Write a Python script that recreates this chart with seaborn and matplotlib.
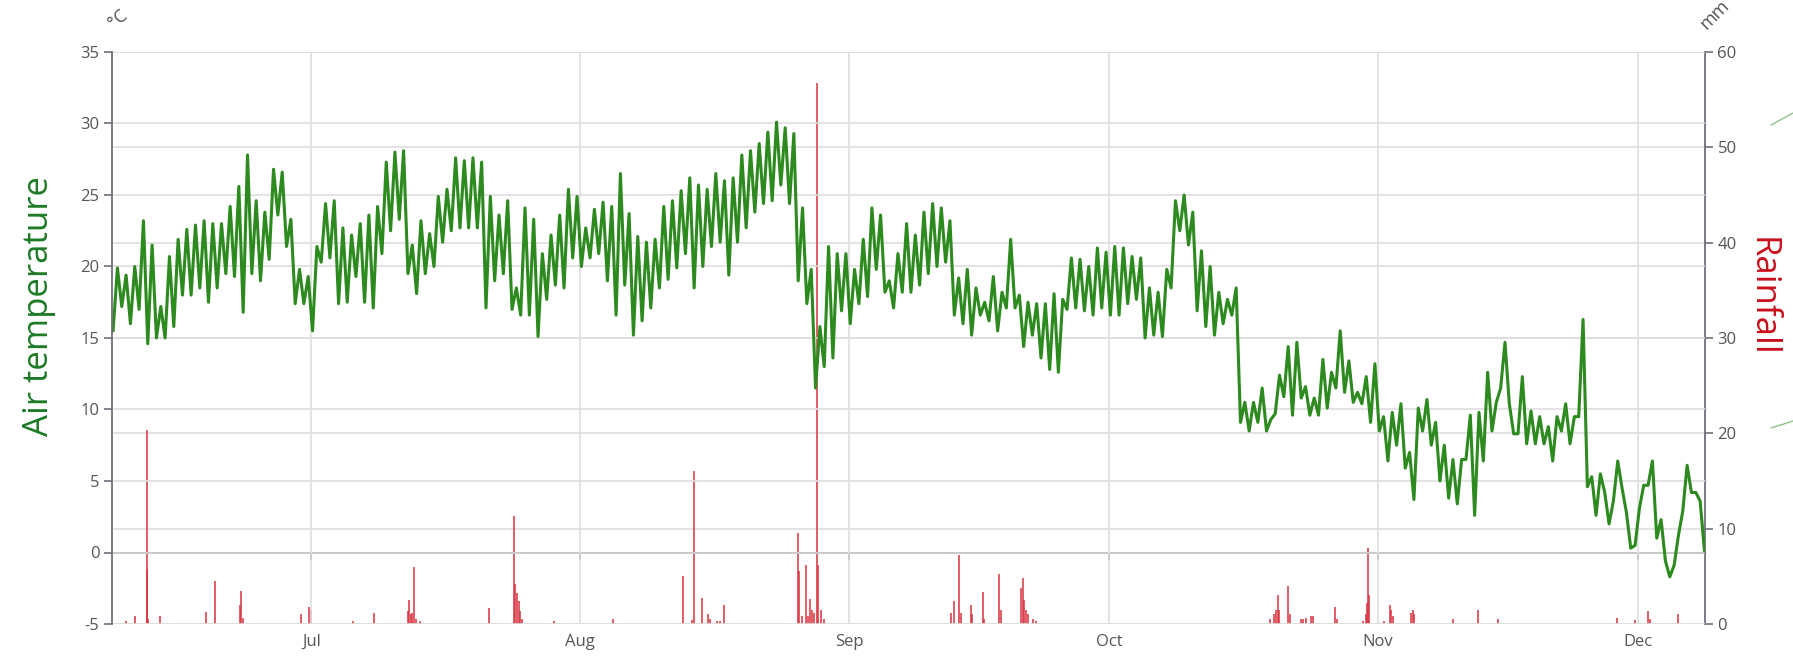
import matplotlib
matplotlib.use("Agg")
import numpy as np
import pandas as pd
import matplotlib.pyplot as plt
import matplotlib.dates as mdates
from matplotlib.lines import Line2D
import seaborn as sns

# ---------------- data ----------------
# Air temperature (°C), two readings per day (03:00, 15:00), starting 8 June
temp_jun = [15.5, 19.9, 17.2, 19.4, 16.0, 20.0, 17.0, 23.2, 14.6, 21.5, 15.0, 17.2,
            15.0, 20.7, 15.8, 21.9, 18.0, 22.6, 18.0, 22.9, 18.5, 23.2, 17.5, 23.0,
            18.5, 23.0, 19.5, 24.2, 19.3, 25.6, 16.8, 27.8, 19.5, 24.6, 19.0, 23.8,
            20.5, 26.8, 23.6, 26.6, 21.4, 23.3, 17.4, 19.8, 17.4, 19.3]
temp_jul = [15.5, 21.4, 20.3, 24.4, 20.6, 24.6, 17.4, 22.7, 17.5, 22.2, 19.3, 23.0,
            17.5, 23.6, 17.1, 24.2, 20.9, 27.3, 22.5, 28.0, 23.3, 28.1, 19.5, 21.5,
            18.1, 23.2, 19.5, 22.3, 20.0, 24.9, 21.7, 25.4, 22.5, 27.6, 22.7, 27.4,
            22.7, 27.6, 22.7, 27.3, 17.1, 24.9, 19.0, 23.6, 19.5, 24.6, 17.0, 18.5,
            16.6, 24.1, 16.6, 23.3, 15.1, 20.9, 17.7, 22.2, 18.7, 23.6, 18.5, 25.4,
            20.6, 24.9]
temp_aug = [20.0, 22.7, 20.6, 24.0, 20.9, 24.5, 19.0, 24.2, 16.6, 26.5, 18.7, 23.7,
            15.2, 22.1, 16.2, 21.7, 17.1, 21.9, 18.5, 24.2, 19.1, 24.6, 19.9, 25.3,
            20.9, 26.2, 18.5, 25.7, 20.0, 25.4, 21.4, 26.5, 21.7, 26.0, 19.4, 26.2,
            21.7, 27.8, 22.7, 28.1, 23.8, 28.6, 24.4, 29.4, 24.6, 30.1, 25.7, 29.7,
            24.4, 29.3, 19.0, 24.1, 17.4, 19.8, 11.5, 15.8, 13.0, 21.4, 13.6, 20.9,
            16.9, 20.9]
temp_sep = [16.0, 19.8, 17.4, 21.9, 17.9, 24.1, 19.8, 23.6, 18.2, 19.0, 17.1, 20.9,
            18.2, 23.0, 18.2, 22.2, 18.7, 23.8, 19.5, 24.4, 20.0, 24.1, 20.3, 23.2,
            16.6, 19.2, 16.0, 19.8, 15.2, 18.5, 16.6, 17.5, 16.2, 19.3, 15.5, 18.2,
            17.1, 21.9, 17.1, 18.0, 14.4, 17.5, 15.2, 17.4, 13.6, 17.4, 12.8, 18.1,
            12.6, 17.7, 17.0, 20.6, 17.1, 20.5, 16.9, 20.0, 16.6, 21.3, 17.1, 21.0]
temp_oct = [16.6, 21.4, 16.6, 21.3, 17.4, 20.7, 17.7, 20.6, 15.0, 18.5, 15.2, 18.2,
            15.1, 19.8, 18.5, 24.6, 22.5, 25.0, 21.5, 23.8, 16.9, 21.1, 15.8, 20.0,
            15.2, 18.2, 16.0, 17.7, 16.6, 18.5, 9.1, 10.5, 8.5, 10.5, 9.1, 11.5,
            8.5, 9.3, 9.7, 12.4, 10.9, 14.4, 9.6, 14.7, 10.8, 11.6, 9.6, 10.8,
            9.6, 13.5, 10.1, 12.6, 11.5, 15.5, 11.2, 13.4, 10.5, 11.2, 10.4, 12.3,
            9.1, 13.2]
temp_nov = [8.5, 9.5, 6.4, 9.8, 7.5, 10.4, 5.9, 7.0, 3.7, 10.1, 8.5, 10.7,
            7.5, 9.1, 5.0, 7.5, 3.8, 6.5, 3.4, 6.5, 6.5, 9.6, 2.6, 9.8,
            6.4, 12.6, 8.5, 10.5, 11.5, 14.7, 10.4, 8.3, 8.3, 12.3, 7.6, 9.9,
            7.6, 9.5, 7.6, 8.8, 6.4, 9.5, 8.5, 10.4, 7.6, 9.5, 9.5, 16.3,
            4.6, 5.3, 2.6, 5.5, 4.2, 2.0, 3.6, 6.4, 4.5, 2.8, 0.3, 0.5]
temp_dec = [3.1, 4.7, 4.7, 6.4, 1.0, 2.3, -0.6, -1.7, -0.9, 1.2, 2.9, 6.1,
            4.2, 4.2, 3.6, 0.1]

# Rainfall (mm): event times and amounts
rain_time = [
    "2023-06-09 14:00", "2023-06-10 17:00", "2023-06-12 01:00", "2023-06-12 02:00",
    "2023-06-12 05:00", "2023-06-13 12:00", "2023-06-18 19:00", "2023-06-19 20:00",
    "2023-06-22 17:00", "2023-06-22 22:00", "2023-06-23 02:00", "2023-06-29 19:00",
    "2023-06-30 17:00", "2023-06-30 22:00", "2023-07-05 19:00", "2023-07-08 05:00",
    "2023-07-12 04:00", "2023-07-12 07:00", "2023-07-12 11:00", "2023-07-12 14:00",
    "2023-07-12 19:00", "2023-07-13 00:00", "2023-07-13 12:00", "2023-07-21 12:00",
    "2023-07-24 08:00", "2023-07-24 12:00", "2023-07-24 17:00", "2023-07-24 22:00",
    "2023-07-25 02:00", "2023-07-25 07:00", "2023-07-29 00:00", "2023-08-04 19:00",
    "2023-08-12 20:00", "2023-08-13 22:00", "2023-08-14 02:00", "2023-08-15 00:00",
    "2023-08-15 17:00", "2023-08-15 22:00", "2023-08-16 19:00", "2023-08-17 02:00",
    "2023-08-17 14:00", "2023-08-26 02:00", "2023-08-26 05:00", "2023-08-26 14:00",
    "2023-08-27 00:00", "2023-08-27 05:00", "2023-08-27 12:00", "2023-08-27 17:00",
    "2023-08-28 00:00", "2023-08-28 07:00", "2023-08-28 11:00", "2023-08-28 17:00",
    "2023-08-29 02:00", "2023-09-12 17:00", "2023-09-13 02:00", "2023-09-13 17:00",
    "2023-09-13 22:00", "2023-09-15 00:00", "2023-09-15 04:00", "2023-09-16 10:00",
    "2023-09-16 14:00", "2023-09-18 07:00", "2023-09-18 12:00", "2023-09-20 19:00",
    "2023-09-21 00:00", "2023-09-21 05:00", "2023-09-21 10:00", "2023-09-21 14:00",
    "2023-09-22 05:00", "2023-09-22 12:00", "2023-10-19 12:00", "2023-10-20 00:00",
    "2023-10-20 05:00", "2023-10-20 10:00", "2023-10-20 14:00", "2023-10-21 14:00",
    "2023-10-21 19:00", "2023-10-23 02:00", "2023-10-23 07:00", "2023-10-23 17:00",
    "2023-10-24 05:00", "2023-10-24 12:00", "2023-10-27 00:00", "2023-10-27 05:00",
    "2023-10-30 07:00", "2023-10-30 14:00", "2023-10-30 17:00", "2023-10-30 19:00",
    "2023-10-30 22:00", "2023-11-01 17:00", "2023-11-02 10:00", "2023-11-02 12:00",
    "2023-11-02 16:00", "2023-11-04 19:00", "2023-11-05 00:00", "2023-11-05 02:00",
    "2023-11-09 14:00", "2023-11-12 12:00", "2023-11-14 19:00", "2023-11-28 12:00",
    "2023-11-30 14:00", "2023-12-02 02:00", "2023-12-02 07:00", "2023-12-05 14:00",
]
rain_mm = [
    0.3, 0.8, 20.3, 5.8, 0.5, 0.8, 1.3, 4.5,
    2.0, 3.5, 0.6, 1.0, 1.8, 1.5, 0.3, 1.2,
    1.4, 2.5, 1.0, 1.2, 6.0, 0.5, 0.3, 1.7,
    11.3, 4.2, 3.2, 2.4, 1.4, 0.5, 0.3, 0.5,
    5.0, 0.4, 16.1, 2.7, 1.0, 0.5, 0.3, 0.3,
    2.0, 9.5, 5.6, 0.8, 6.2, 0.8, 2.6, 1.5,
    1.2, 56.8, 6.2, 1.5, 0.5, 1.2, 2.4, 7.2,
    1.2, 2.0, 1.0, 3.4, 0.5, 5.2, 1.5, 3.8,
    4.8, 2.5, 1.5, 1.0, 0.5, 0.3, 0.5, 1.0,
    1.5, 3.0, 1.5, 4.0, 1.0, 0.5, 0.5, 0.6,
    0.8, 0.8, 1.8, 0.5, 0.3, 1.0, 2.2, 8.0,
    3.0, 0.3, 2.0, 1.5, 0.8, 1.2, 1.5, 1.0,
    0.5, 1.5, 0.5, 0.6, 0.4, 1.4, 0.5, 1.0,
]

temp_ticks = [-5, 0, 5, 10, 15, 20, 25, 30, 35]
rain_ticks = [0, 10, 20, 30, 40, 50, 60]

# ---------------- build frames ----------------
temps = temp_jun + temp_jul + temp_aug + temp_sep + temp_oct + temp_nov + temp_dec
t_times = pd.date_range("2023-06-08 03:00", periods=len(temps), freq="12h")
df_t = pd.DataFrame({"time": t_times, "temp": temps})
df_r = pd.DataFrame({"time": pd.to_datetime(rain_time), "rain": rain_mm})

# ---------------- style ----------------
sns.set_theme(style="white")
plt.rcParams["font.family"] = ["Open Sans", "DejaVu Sans"]
plt.rcParams["axes.unicode_minus"] = False

AX_COL = "#6e7079"
LBL_COL = "#555555"
GRID_COL = "#dedede"
GREEN = "#2c8a1e"

fig = plt.figure(figsize=(17.93, 6.59), dpi=100, facecolor="white")
L, R, T, B = 112, 1705, 52, 624
W, H = 1793, 659
ax = fig.add_axes([L / W, 1 - B / H, (R - L) / W, (B - T) / H])
ax2 = ax.twinx()

# rain on the secondary axis (drawn below the temperature axis)
ax2.vlines(df_r["time"], 0, df_r["rain"], color="#d9333f", lw=1.3, alpha=0.85)
ax2.set_ylim(0, 60)
ax2.set_yticks(rain_ticks)
ax2.grid(True, axis="y", color=GRID_COL, lw=1.2)
ax2.set_axisbelow(True)

# temperature
sns.lineplot(data=df_t, x="time", y="temp", ax=ax, color=GREEN, lw=2.2)
ax.set_ylim(-5, 35)
ax.set_yticks(temp_ticks)
ax.set_xlim(pd.Timestamp("2023-06-08 00:00"), pd.Timestamp("2023-12-08 16:30"))
ax.xaxis.set_major_locator(mdates.MonthLocator())
ax.xaxis.set_major_formatter(mdates.DateFormatter("%b"))
ax.grid(True, axis="both", color=GRID_COL, lw=1.2)
ax.set_axisbelow(True)
ax.set_xlabel("")
ax.set_ylabel("")

ax.set_zorder(2)
ax2.set_zorder(1)
ax.patch.set_visible(False)

# zero line with month ticks
sec = ax.secondary_xaxis(0.125)
sec.xaxis.set_major_locator(mdates.MonthLocator())
sec.tick_params(axis="x", length=5, width=1.2, color="#555555", labelbottom=False, direction="out")
sec.spines["bottom"].set_color("#555555")
sec.spines["bottom"].set_linewidth(1.3)

for s in ["top", "right", "bottom"]:
    ax.spines[s].set_visible(False)
for s in ["top", "left", "bottom"]:
    ax2.spines[s].set_visible(False)
ax.spines["left"].set_color(AX_COL)
ax.spines["left"].set_linewidth(1.3)
ax2.spines["right"].set_color(AX_COL)
ax2.spines["right"].set_linewidth(1.3)

ax.tick_params(axis="y", left=True, length=6, width=1.2, color=AX_COL, labelsize=12,
               labelcolor=LBL_COL, pad=3)
ax.tick_params(axis="x", bottom=False, length=0, labelsize=12, labelcolor=LBL_COL, pad=7)
ax2.tick_params(axis="y", right=True, length=6, width=1.2, color=AX_COL, labelsize=12,
                labelcolor=LBL_COL, pad=3)

# titles / units
fig.text(39 / W, 1 - 306 / H, "Air temperature", rotation=90, color="#1d7a25",
         fontsize=25, ha="center", va="center")
fig.text(1762 / W, 1 - 297 / H, "Rainfall", rotation=-90, color="#c8101e",
         fontsize=25, ha="center", va="center")
fig.text(118 / W, 1 - 19 / H, "°C", rotation=40, color=LBL_COL, fontsize=13,
         ha="center", va="center")
fig.text(1715 / W, 1 - 15 / H, "mm", rotation=45, color=LBL_COL, fontsize=13,
         ha="center", va="center")

# faint decorative strokes at the right edge
for y0, y1 in [(125, 113), (428, 421)]:
    fig.add_artist(Line2D([1771 / W, 1.0], [1 - y0 / H, 1 - y1 / H],
                          transform=fig.transFigure, color="#8cc48c", lw=1.0))

fig.savefig("out.png", dpi=100, facecolor="white")
